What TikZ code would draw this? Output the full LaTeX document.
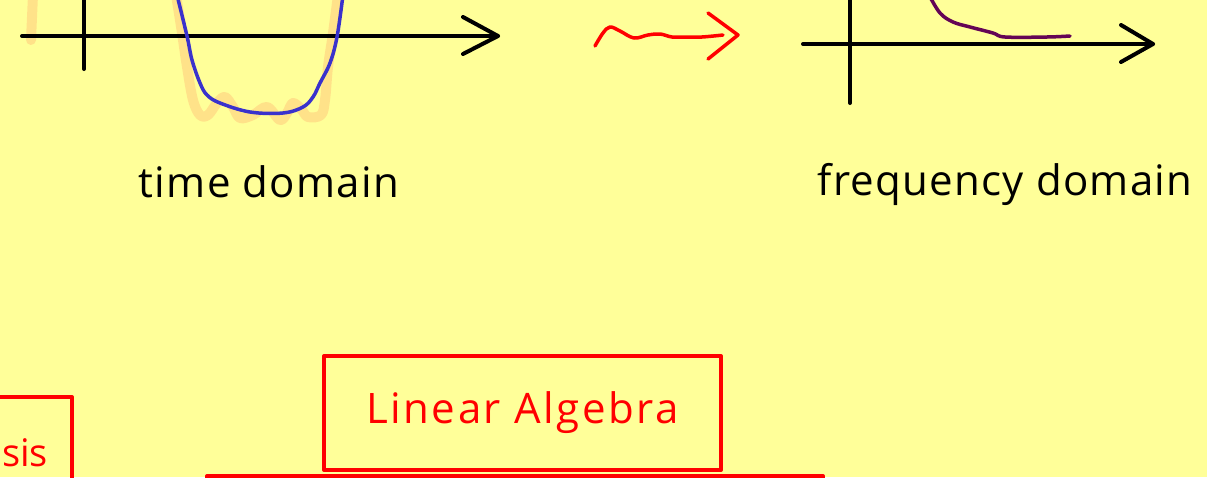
\documentclass[tikz,border=0pt]{standalone}
\usepackage{fontspec}
\setmainfont{Open Sans}
\usetikzlibrary{arrows.meta}
\definecolor{notepad}{RGB}{255,255,153}
\definecolor{ghost}{RGB}{255,222,135}
\definecolor{penblue}{RGB}{58,50,204}
\definecolor{penpurple}{RGB}{100,5,85}
\tikzset{
  axis/.style={line width=4pt,line cap=round,line join=round},
  box/.style={draw=red,line width=4pt,line join=round},
  hand/.style={font=\fontsize{42}{50}\selectfont\addfontfeature{LetterSpace=3}},
  boxtext/.style={text=red,font=\fontsize{42}{50}\selectfont\addfontfeature{LetterSpace=6}}
}
\begin{document}
\begin{tikzpicture}[x=1pt,y=-1pt,line join=round,line cap=round]
			\useasboundingbox (0,0) rectangle (1207,477);
			\fill[notepad] (0,0) rectangle (1207,477);
			\draw[ghost,opacity=0.85,line width=10pt] (33,-5) -- (31,40);
			\draw[ghost,opacity=0.85,line width=10pt] plot[smooth,tension=0.6] coordinates {(176,-5) (182,33) (187,67) (193,100) (200,115) (208,115) (217,103) (225,97) (233,107) (240,118) (253,115) (267,107) (280,120) (287,113) (293,103) (302,110) (308,117) (321,115) (325,100) (328,67) (333,33) (338,-5)};
			\draw[axis] (22,36) -- (498,36);
			\draw[axis] (463,17) -- (498,36) -- (463,54);
			\draw[axis] (84,-5) -- (84,69);
			\draw[penblue,line width=3.5pt] plot[smooth,tension=0.6] coordinates {(177,-5) (187,36) (192,60) (200,83) (207,95) (220,103) (250,112) (283,113) (303,107) (313,97) (320,83) (330,63) (337,37) (343,-5)};
			\draw[red,line width=3.5pt] plot[smooth,tension=0.6] coordinates {(595,46) (603,33) (610,27) (620,31) (634,38) (648,35) (660,34) (672,37) (686,37) (702,37) (723,35)};
			\draw[red,line width=3.5pt] (708,13) -- (738,35) -- (708,59);
			\draw[axis] (803,44) -- (1153,44);
			\draw[axis] (1121,25) -- (1153,44) -- (1121,62);
			\draw[axis] (850,-5) -- (850,103);
			\draw[penpurple,line width=3.5pt] plot[smooth,tension=0.6] coordinates {(929,-5) (940,13) (953,22) (970,27) (993,33) (1005,37) (1047,37) (1070,36)};
			\node[hand,anchor=base] (time) at (269,197) {time domain};
			\node[hand,anchor=base] (freq) at (1005,195) {frequency domain};
			\draw[box] (-10,397) rectangle (72,500);
			\node[text=red,font=\fontsize{38}{44}\selectfont,anchor=base west,inner sep=0pt] (analysis) at (2,466) {sis};
			\node[box,boxtext,minimum width=397pt,minimum height=114pt,inner sep=0pt] (linalg) at (522.5,413) {Linear Algebra};
			\draw[box] (207,476) rectangle (823,540);
		\end{tikzpicture}
\end{document}
